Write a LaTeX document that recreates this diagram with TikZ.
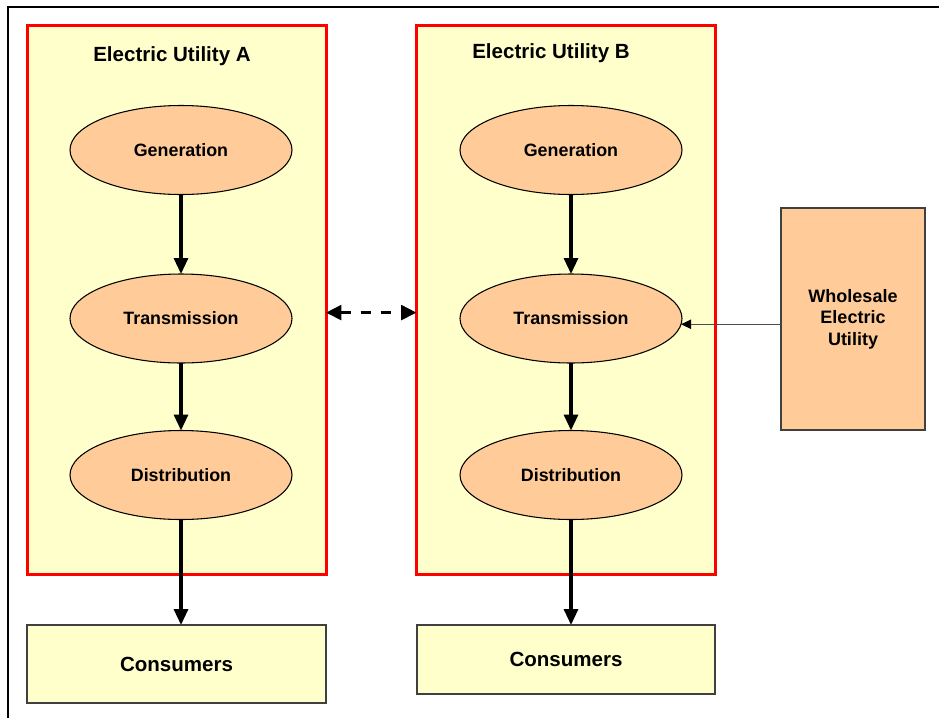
\documentclass[tikz,border=0pt]{standalone}
\usepackage{fontspec}
\setmainfont{Liberation Sans}
\usetikzlibrary{shapes.geometric,arrows.meta}
\definecolor{boxyellow}{RGB}{255,255,204}
\definecolor{peach}{RGB}{255,204,153}
\definecolor{utilred}{RGB}{255,0,0}
\newcommand\pxu{0.75pt}
\tikzset{
  utilbox/.style={draw=utilred, line width=2.25pt, fill=boxyellow, rectangle,
    minimum width=299*\pxu, minimum height=549*\pxu, inner sep=0pt, outer sep=0pt},
  stage/.style={draw=black, line width=0.8pt, fill=peach, ellipse,
    minimum width=222*\pxu, minimum height=89*\pxu, inner sep=0pt, outer sep=0pt,
    font=\fontsize{13.4}{16}\selectfont\bfseries},
  title/.style={font=\fontsize{15.4}{18}\selectfont\bfseries},
  consbox/.style={draw=black!75, line width=1pt, fill=boxyellow, rectangle,
    inner sep=0pt, outer sep=0pt, font=\fontsize{15.4}{18}\selectfont\bfseries},
  wholebox/.style={draw=black!75, line width=1pt, fill=peach, rectangle,
    minimum width=144*\pxu, minimum height=222*\pxu, inner sep=0pt, outer sep=0pt,
    align=center, font=\fontsize{13.5}{16.2}\selectfont\bfseries},
  flow/.style={line width=2.4pt, -{Triangle[length=12pt,width=10.5pt]}},
  link/.style={line width=2.4pt, dash pattern=on 8pt off 7pt,
    {Triangle[length=11.5pt,width=11pt]}-{Triangle[length=11.5pt,width=11pt]}},
  feed/.style={line width=0.8pt, draw=black!70,
    -{Triangle[length=7.5pt,width=7pt,fill=black,color=black]}}
}
\begin{document}
\begin{tikzpicture}[x=0.75pt,y=-0.75pt]
\useasboundingbox (0,0) rectangle (939,718);
% outer frame
\draw[line width=1.6pt] (8,718) -- (8,7) -- (939,7);
% utility boxes
\node[utilbox] (ba) at (176.5,299.5) {};
\node[utilbox] (bb) at (566,299.5) {};
\node[title] (tA) at (172,56) {Electric Utility A};
\node[title] (tB) at (551,53) {Electric Utility B};
% stages A
\node[stage] (ga) at (181,150) {Generation};
\node[stage] (ta) at (181,318.5) {Transmission};
\node[stage] (da) at (181,475) {Distribution};
% stages B
\node[stage] (gb) at (571,150) {Generation};
\node[stage] (tb) at (571,318.5) {Transmission};
\node[stage] (db) at (571,475) {Distribution};
% consumers
\node[consbox, minimum width=299*\pxu, minimum height=78*\pxu] (ca) at (176.5,664) {Consumers};
\node[consbox, minimum width=298*\pxu, minimum height=69*\pxu] (cb) at (566,659.5) {Consumers};
% wholesale
\node[wholebox] (w) at (853,319) {Wholesale\\Electric\\Utility};
% arrows
\draw[flow] (ga) -- (ta);
\draw[flow] (ta) -- (da);
\draw[flow] (da.south) -- (ca.north -| da.south);
\draw[flow] (gb) -- (tb);
\draw[flow] (tb) -- (db);
\draw[flow] (db.south) -- (cb.north -| db.south);
\draw[link] (ba.-5) -- (bb.185);
\draw[feed] (tb.-3.6 -| w.west) -- (tb.-3.6);
\end{tikzpicture}
\end{document}
